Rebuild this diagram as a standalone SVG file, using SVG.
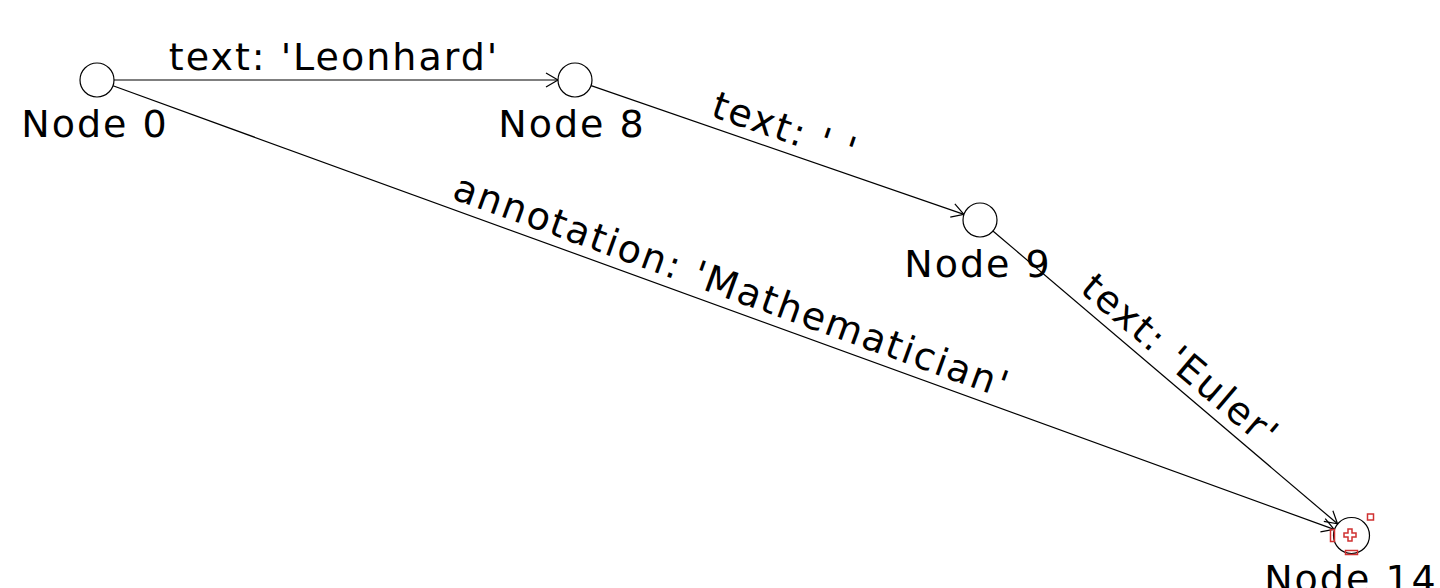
<svg xmlns="http://www.w3.org/2000/svg" width="1440" height="588" viewBox="0 0 1440 588">
<style>
.node{fill:#fff;stroke:#000;stroke-width:1.2}
.lbl{font-family:"DejaVu Sans",sans-serif;font-size:38px;letter-spacing:2px;fill:#000;text-anchor:middle}
.edge{stroke:#000;stroke-width:1.2;fill:none;marker-end:url(#arr)}
.sel{fill:none;stroke:#d03030;stroke-width:1.5}
</style>
<defs>
<marker id="arr" markerUnits="userSpaceOnUse" markerWidth="16" markerHeight="18" refX="13" refY="8" orient="auto" overflow="visible">
<path d="M1,1 L13,8 L1,15" fill="none" stroke="#000" stroke-width="1.2"/>
</marker>
</defs>
<rect width="1440" height="588" fill="#fff"/>
<g id="connectors">
<line class="edge" x1="114" y1="80" x2="558" y2="80"/>
<line class="edge" x1="591.1" y1="85.6" x2="963.9" y2="214.4"/>
<line class="edge" x1="113" y1="85.8" x2="1334.1" y2="529.4"/>
<line class="edge" x1="992.9" y1="231" x2="1337.5" y2="523.8"/>
<text class="lbl" x="334" y="70">text: 'Leonhard'</text>
<text class="lbl" transform="translate(777.5,150) rotate(19.07)" x="0" y="-10">text: ' '</text>
<text class="lbl" transform="translate(724,308) rotate(19.94)" x="0" y="-10">annotation: 'Mathematician'</text>
<text class="lbl" transform="translate(1165.5,378) rotate(40.33)" x="0" y="-10">text: 'Euler'</text>
</g>
<g id="node0">
<circle class="node" cx="97" cy="80" r="17"/>
<text class="lbl" x="95" y="137">Node 0</text>
</g>
<g id="node8">
<circle class="node" cx="575" cy="80" r="17"/>
<text class="lbl" x="572" y="137">Node 8</text>
</g>
<g id="node9">
<circle class="node" cx="980" cy="220" r="17"/>
<text class="lbl" x="978" y="277">Node 9</text>
</g>
<g id="node14">
<circle class="node" cx="1351.5" cy="535.5" r="18"/>
<path class="sel" d="M1348,529 h4 v4 h4 v4 h-4 v4 h-4 v-4 h-4 v-4 h4 z"/>
<rect class="sel" x="1367.5" y="514" width="6" height="6"/>
<rect class="sel" x="1330.5" y="529.5" width="4" height="12"/>
<rect class="sel" x="1345.5" y="550.5" width="12" height="4"/>
<text class="lbl" x="1351" y="592">Node 14</text>
</g>
</svg>
